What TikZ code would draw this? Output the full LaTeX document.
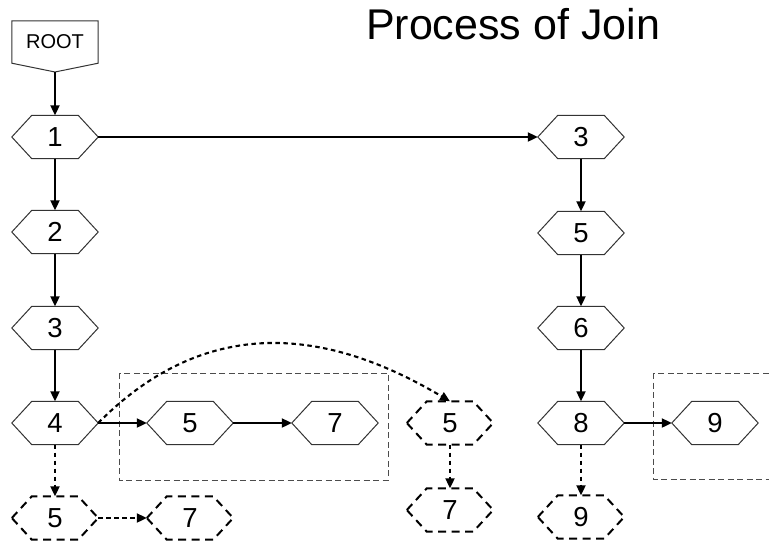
\documentclass[tikz,border=0pt]{standalone}
\usepackage{fontspec}
\setmainfont{Liberation Sans}
\usetikzlibrary{arrows.meta,calc}
\tikzset{
  hexbase/.style={rectangle, draw=none, minimum width=86pt, minimum height=43pt, inner sep=0pt, font=\fontsize{27.5}{32}\selectfont},
  hexline/.style={draw=black!80, line width=1pt},
  dhexline/.style={draw=black, line width=2pt, dash pattern=on 8pt off 5.5pt},
  solidarrow/.style={line width=2.1pt, -{Triangle[length=10pt,width=9pt]}},
  dotarrow/.style={line width=2.1pt, dash pattern=on 4.5pt off 3.5pt, -{Triangle[length=10pt,width=9pt]}},
  grouprect/.style={draw=black!70, line width=0.9pt, dash pattern=on 6pt off 3.5pt}
}
\begin{document}
\begin{tikzpicture}[x=1pt,y=-1pt]
\clip (0,0) rectangle (769,544);
\fill[white] (0,0) rectangle (769,544);

% title
\node[font=\fontsize{43}{50}\selectfont, anchor=base, inner sep=0pt] (title) at (513,39) {Process of Join};

% root
\node[rectangle, minimum width=86pt, minimum height=42pt, inner sep=0pt, font=\fontsize{20}{24}\selectfont] (root) at (55,42) {ROOT};
\coordinate (roottip) at (55,72);
\draw[hexline] (root.north west) -- (root.north east) -- (root.south east) -- (roottip) -- (root.south west) -- cycle;

% group rectangles
\draw[grouprect] (119,373) rectangle (388,480);
\draw[grouprect] (653,373) rectangle (790,479);

% left column
\node[hexbase] (n1) at (55,137) {1};
\node[hexbase] (n2) at (55,232) {2};
\node[hexbase] (n3) at (55,328) {3};
\node[hexbase] (n4) at (55,423) {4};
\node[hexbase] (d5) at (55,518) {5};
\node[hexbase] (d7) at (190,518) {7};
\node[hexbase] (b5) at (190,423) {5};
\node[hexbase] (b7) at (335,423) {7};
\node[hexbase] (d5r) at (450,423) {5};
\node[hexbase] (d7r) at (450,510) {7};

% right column
\node[hexbase] (r3) at (581,137) {3};
\node[hexbase] (r5) at (581,233) {5};
\node[hexbase] (r6) at (581,328) {6};
\node[hexbase] (r8) at (581,423) {8};
\node[hexbase] (d9) at (581,517) {9};
\node[hexbase] (b9) at (715,423) {9};

% hexagon outlines
\foreach \n in {n1,n2,n3,n4,b5,b7,r3,r5,r6,r8,b9}
  \draw[hexline] (\n.west) -- ($(\n.north west)+(20pt,0)$) -- ($(\n.north east)+(-20pt,0)$) -- (\n.east) -- ($(\n.south east)+(-20pt,0)$) -- ($(\n.south west)+(20pt,0)$) -- cycle;
\foreach \n in {d5,d7,d5r,d7r,d9}
  \draw[dhexline] (\n.west) -- ($(\n.north west)+(20pt,0)$) -- ($(\n.north east)+(-20pt,0)$) -- (\n.east) -- ($(\n.south east)+(-20pt,0)$) -- ($(\n.south west)+(20pt,0)$) -- cycle;

% solid connectors
\draw[solidarrow] (roottip) -- (n1.north);
\draw[solidarrow] (n1.east) -- (r3.west);
\draw[solidarrow] (n1.south) -- (n2.north);
\draw[solidarrow] (n2.south) -- (n3.north);
\draw[solidarrow] (n3.south) -- (n4.north);
\draw[solidarrow] (n4.east) -- (b5.west);
\draw[solidarrow] (b5.east) -- (b7.west);
\draw[solidarrow] (r3.south) -- (r5.north);
\draw[solidarrow] (r5.south) -- (r6.north);
\draw[solidarrow] (r6.south) -- (r8.north);
\draw[solidarrow] (r8.east) -- (b9.west);

% dotted connectors
\draw[dotarrow] (n4.south) -- (d5.north);
\draw[dotarrow] (d5.east) -- (d7.west);
\draw[dotarrow] (n4.east) .. controls (223,297) and (355,345) .. (d5r.north);
\draw[dotarrow] (d5r.south) -- (d7r.north);
\draw[dotarrow] (r8.south) -- (d9.north);
\end{tikzpicture}
\end{document}
